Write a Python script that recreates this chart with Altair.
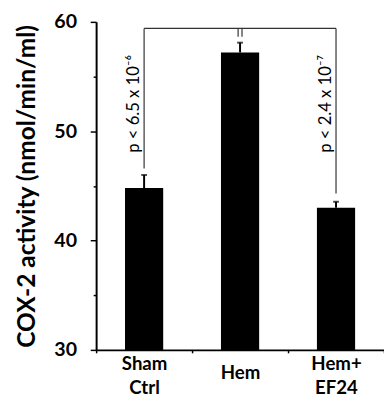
import altair as alt
import pandas as pd

groups = ["Sham|Ctrl", "Hem", "Hem+|EF24"]
means = [44.8, 57.2, 43.0]
sems = [1.2, 0.9, 0.55]

# significance brackets (data units)
bracket_top = 59.4
hem_stub_low = 58.65
left_low = 46.6
right_low = 44.3
p_texts = ["p < 6.5 x 10⁻⁶", "p < 2.4 x 10⁻⁷"]
p_groups = ["Sham|Ctrl", "Hem+|EF24"]
p_y = 52.5

df = pd.DataFrame({"group": groups, "mean": means, "sem": sems})
df["hi"] = df["mean"] + df["sem"]

FONT = "Lato"
xscale = alt.Scale(domain=groups, paddingInner=0, paddingOuter=0)
xaxis = alt.Axis(
    title=None,
    labelAngle=0,
    labelExpr="datum.value ? split(datum.value, '|') : ''",
    labelFont=FONT,
    labelFontWeight="bold",
    labelFontSize=19,
    labelColor="black",
    labelLineHeight=25,
    labelBaseline="top",
    labelPadding={"condition": {"test": "datum.value == 'Hem'", "value": 11}, "value": 2},
    tickBand="extent",
    tickSize=3,
    tickWidth=1.5,
    tickColor="black",
    domainColor="black",
    domainWidth=2,
)


def X(field="group"):
    return alt.X(f"{field}:N", scale=xscale, axis=xaxis)


yscale = alt.Scale(domain=[30, 60], zero=False, nice=False)
yaxis = alt.Axis(
    title="COX-2  activity (nmol/min/ml)",
    titleFont=FONT,
    titleFontWeight="bold",
    titleFontSize=25,
    titleColor="black",
    titlePadding=15,
    values=[30, 35, 40, 45, 50, 55, 60],
    labelExpr="datum.value % 10 == 0 ? datum.label : ''",
    labelFont=FONT,
    labelFontWeight="bold",
    labelFontSize=20,
    labelColor="black",
    labelPadding=14,
    tickSize={"condition": {"test": "datum.value % 10 != 0", "value": 3}, "value": 6},
    tickWidth=1.5,
    tickColor="black",
    domainColor="black",
    domainWidth=2,
    grid=False,
)

base = alt.Chart(df)
bars = base.mark_bar(size=39, color="black").encode(
    x=X(),
    y=alt.Y("mean:Q", scale=yscale, axis=yaxis),
    y2=alt.datum(30),
)
err = base.mark_rule(color="black", strokeWidth=2).encode(x=X(), y="mean:Q", y2="hi:Q")
caps = base.mark_tick(color="black", size=6, thickness=2).encode(x=X(), y="hi:Q")

# bracket segments
vdf = pd.DataFrame({
    "group": ["Sham|Ctrl", "Hem+|EF24"],
    "lo": [left_low, right_low],
    "hi": [bracket_top, bracket_top],
})
vlines = alt.Chart(vdf).mark_rule(color="#333333", strokeWidth=1.2).encode(
    x=X(), y="lo:Q", y2="hi:Q"
)
hdf = pd.DataFrame({"group": ["Sham|Ctrl"], "group2": ["Hem+|EF24"], "y": [bracket_top]})
hline = alt.Chart(hdf).mark_rule(color="#333333", strokeWidth=1.2).encode(
    x=X(), x2="group2:N", y="y:Q"
)
sdf = pd.DataFrame({"group": ["Hem"], "lo": [hem_stub_low], "hi": [bracket_top]})
stub_l = alt.Chart(sdf).mark_rule(color="#333333", strokeWidth=1.2, xOffset=-2).encode(
    x=X(), y="lo:Q", y2="hi:Q"
)
stub_r = alt.Chart(sdf).mark_rule(color="#333333", strokeWidth=1.2, xOffset=2).encode(
    x=X(), y="lo:Q", y2="hi:Q"
)

tdf = pd.DataFrame({"group": p_groups, "text": p_texts, "y": [p_y, p_y]})
ptext = alt.Chart(tdf).mark_text(
    angle=270, font=FONT, fontSize=17, color="black", align="center", baseline="middle", xOffset=-10
).encode(x=X(), y="y:Q", text="text:N")

chart = alt.layer(bars, err, caps, vlines, hline, stub_l, stub_r, ptext).properties(
    width=294,
    height=335,
    autosize=alt.AutoSizeParams(type="none"),
    padding={"left": 90, "top": 10, "right": 0, "bottom": 47},
).configure_view(stroke=None)

chart.save("out.html", embed_options={"renderer": "svg", "actions": False})
